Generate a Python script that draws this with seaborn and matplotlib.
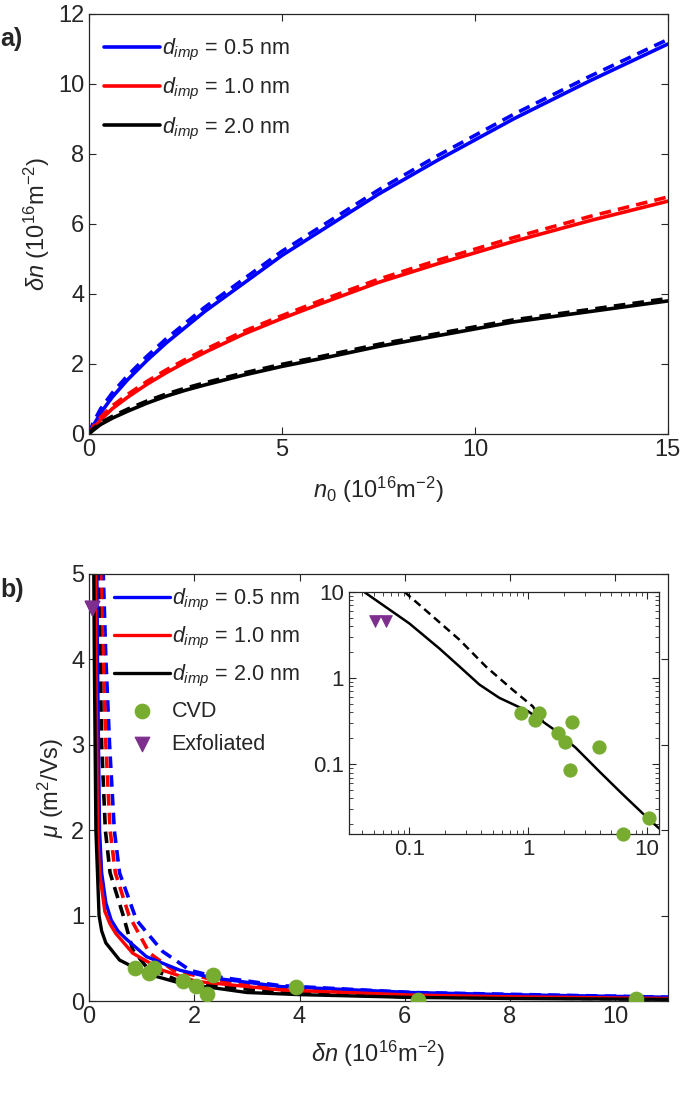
import numpy as np
import pandas as pd
import seaborn as sns
import matplotlib.pyplot as plt

sns.set_style("ticks")
plt.rcParams['font.family'] = ['Liberation Sans', 'DejaVu Sans']
plt.rcParams['mathtext.fontset'] = 'custom'
plt.rcParams['mathtext.rm'] = 'Liberation Sans'
plt.rcParams['mathtext.it'] = 'Liberation Sans:italic'
plt.rcParams['mathtext.bf'] = 'Liberation Sans:bold'

# ---- panel a: delta n vs n0 ----
n0 = [0, 0.1, 0.3, 0.6, 1, 1.5, 2, 2.5, 3, 4, 5, 6, 7.5, 9, 11, 13, 15]
dn_05 = [0, 0.22, 0.60, 1.05, 1.55, 2.10, 2.60, 3.05, 3.50, 4.30, 5.10, 5.80, 6.85, 7.80, 9.00, 10.10, 11.14]
dn_10 = [0, 0.15, 0.40, 0.72, 1.05, 1.42, 1.75, 2.05, 2.33, 2.85, 3.30, 3.72, 4.33, 4.85, 5.50, 6.10, 6.65]
dn_20 = [0, 0.10, 0.27, 0.45, 0.65, 0.88, 1.08, 1.25, 1.40, 1.68, 1.93, 2.15, 2.50, 2.80, 3.20, 3.50, 3.80]
dn_05_dash = [0, 0.30, 0.72, 1.17, 1.67, 2.22, 2.72, 3.17, 3.62, 4.42, 5.22, 5.92, 6.97, 7.93, 9.13, 10.23, 11.27]
dn_10_dash = [0, 0.20, 0.48, 0.80, 1.13, 1.50, 1.83, 2.13, 2.41, 2.93, 3.38, 3.81, 4.42, 4.95, 5.61, 6.22, 6.77]
dn_20_dash = [0, 0.14, 0.32, 0.50, 0.71, 0.94, 1.14, 1.31, 1.46, 1.74, 1.99, 2.21, 2.56, 2.86, 3.26, 3.56, 3.87]

# ---- panel b: mobility vs delta n ----
b05_x = [0.14, 0.15, 0.16, 0.18, 0.20, 0.24, 0.32, 0.42, 0.55, 0.70, 1.09, 1.73, 2.36, 3.64, 6.13, 8, 11]
b05_y = [5.5, 5, 4, 3, 2, 1.5, 1.15, 0.95, 0.82, 0.73, 0.52, 0.36, 0.27, 0.17, 0.10, 0.075, 0.045]
b10_x = [0.11, 0.12, 0.13, 0.147, 0.16, 0.20, 0.30, 0.40, 0.51, 0.83, 1.40, 2.04, 3.64, 6.13, 8, 11]
b10_y = [5.5, 5, 4, 3, 2, 1.5, 1.05, 0.90, 0.79, 0.56, 0.36, 0.23, 0.13, 0.07, 0.05, 0.03]
b20_x = [0.08, 0.09, 0.10, 0.115, 0.13, 0.16, 0.19, 0.24, 0.32, 0.58, 1.09, 1.73, 3.0, 4.0, 6.1, 8, 11]
b20_y = [5.5, 5, 4, 3, 2, 1.5, 1.0, 0.82, 0.68, 0.48, 0.32, 0.21, 0.10, 0.075, 0.043, 0.03, 0.02]
b05d_x = [0.25, 0.27, 0.32, 0.39, 0.48, 0.58, 0.90, 1.10, 1.40, 1.92, 2.36, 3.64, 6.13, 11]
b05d_y = [5.5, 5, 4, 3, 2, 1.5, 0.95, 0.80, 0.58, 0.36, 0.29, 0.18, 0.10, 0.045]
b10d_x = [0.20, 0.22, 0.27, 0.32, 0.40, 0.50, 0.76, 1.15, 1.60, 2.36, 3.64, 6.13, 11]
b10d_y = [5.5, 5, 4, 3, 2, 1.5, 1.0, 0.56, 0.36, 0.25, 0.15, 0.08, 0.03]
b20d_x = [0.15, 0.17, 0.21, 0.24, 0.31, 0.40, 0.65, 0.83, 1.09, 1.73, 3.64, 6.13, 11]
b20d_y = [5.5, 5, 4, 3, 2, 1.5, 1.0, 0.60, 0.40, 0.23, 0.095, 0.048, 0.022]

cvd_x = [0.87, 1.14, 1.23, 1.78, 2.03, 2.25, 2.35, 3.93, 6.25, 10.4]
cvd_y = [0.39, 0.33, 0.39, 0.23, 0.18, 0.085, 0.31, 0.16, 0.0155, 0.024]
exf_x = [0.051, 0.064]
exf_y = [4.6, 4.6]

# inset (log-log)
ins_x = [0.042, 0.1, 0.179, 0.264, 0.388, 0.57, 1.0, 1.6, 2.51, 3.94, 6.2, 10, 12.6]
ins_y = [9.9, 4.3, 2.2, 1.36, 0.84, 0.59, 0.41, 0.26, 0.155, 0.083, 0.045, 0.024, 0.018]
insd_x = [0.091, 0.157, 0.264, 0.44, 0.74, 1.09, 1.36]
insd_y = [10, 5.2, 2.78, 1.36, 0.73, 0.47, 0.30]

labels = [r'$d_{imp}$ = 0.5 nm', r'$d_{imp}$ = 1.0 nm', r'$d_{imp}$ = 2.0 nm']
colors = ['#0000ff', '#ff0000', '#000000']
green = '#77ac30'
purple = '#7e2f8e'
dash = (0, (3.2, 2.0))

fig = plt.figure(figsize=(6.85, 10.95), dpi=100)
ax1 = fig.add_axes([0.130, 0.6037, 0.845, 0.3836])
ax2 = fig.add_axes([0.130, 0.0858, 0.845, 0.390])
ax3 = fig.add_axes([0.5095, 0.2384, 0.4526, 0.221])

# panel a
for ys, c, lab in zip([dn_05, dn_10, dn_20], colors, labels):
    sns.lineplot(x=n0, y=ys, color=c, lw=2.6, label=lab, ax=ax1)
for ys, c in zip([dn_05_dash, dn_10_dash, dn_20_dash], colors):
    sns.lineplot(x=n0, y=ys, color=c, lw=2.6, linestyle=dash, ax=ax1)
ax1.set_xlim(0, 15)
ax1.set_ylim(0, 12)
ax1.set_xticks([0, 5, 10, 15])
ax1.set_yticks([0, 2, 4, 6, 8, 10, 12])
ax1.set_xlabel(r'$n_{\mathit{0}}$ (10$^{16}$m$^{-2}$)', fontsize=17, labelpad=10)
ax1.set_ylabel(r'$\delta n$ (10$^{16}$m$^{-2}$)', fontsize=17)
h, l = ax1.get_legend_handles_labels()
ax1.legend(h[:3], l[:3], loc='upper left', frameon=False, fontsize=15.5,
           handlelength=2.6, handletextpad=0.1, labelspacing=0.6,
           borderaxespad=0.3, bbox_to_anchor=(0.0, 0.98))

# panel b
for xs, ys, c in zip([b05d_x, b10d_x, b20d_x], [b05d_y, b10d_y, b20d_y], colors):
    sns.lineplot(x=xs, y=ys, color=c, lw=2.6, linestyle=dash, sort=False, ax=ax2)
for xs, ys, c, lab in zip([b05_x, b10_x, b20_x], [b05_y, b10_y, b20_y], colors, labels):
    sns.lineplot(x=xs, y=ys, color=c, lw=2.4, sort=False, label=lab, ax=ax2)
sns.scatterplot(x=cvd_x, y=cvd_y, color=green, s=110, marker='o', edgecolor=green,
                label='CVD', zorder=5, ax=ax2)
sns.scatterplot(x=exf_x, y=exf_y, color=purple, s=110, marker='v', edgecolor=purple,
                label='Exfoliated', zorder=5, ax=ax2, clip_on=False)
ax2.set_xlim(0, 11)
ax2.set_ylim(0, 5)
ax2.set_xticks([0, 2, 4, 6, 8, 10])
ax2.set_yticks([0, 1, 2, 3, 4, 5])
ax2.set_xlabel(r'$\delta n$ (10$^{16}$m$^{-2}$)', fontsize=17, labelpad=8)
ax2.set_ylabel(r'$\mu$ (m$^2$/Vs)', fontsize=17)
ax2.legend(loc='upper left', frameon=False, fontsize=15.5, handlelength=2.6,
           handletextpad=0.1, labelspacing=0.55, borderaxespad=0.2,
           bbox_to_anchor=(0.02, 1.0))

# inset
sns.lineplot(x=ins_x, y=ins_y, color='black', lw=1.8, ax=ax3)
sns.lineplot(x=insd_x, y=insd_y, color='black', lw=1.8, linestyle=dash, ax=ax3)
sns.scatterplot(x=cvd_x, y=cvd_y, color=green, s=90, marker='o', edgecolor=green,
                zorder=5, ax=ax3, clip_on=False)
sns.scatterplot(x=exf_x, y=exf_y, color=purple, s=70, marker='v', edgecolor=purple,
                zorder=5, ax=ax3)
ax3.set_xscale('log')
ax3.set_yscale('log')
ax3.set_xlim(0.031, 12.6)
ax3.set_ylim(0.0155, 10)
ax3.set_xticks([0.1, 1, 10], labels=['0.1', '1', '10'])
ax3.set_yticks([0.1, 1, 10], labels=['0.1', '1', '10'])
ax3.set_xlabel('')
ax3.set_ylabel('')

for ax in (ax1, ax2, ax3):
    ax.tick_params(direction='in', top=True, right=True, labelsize=17,
                   length=5, width=0.8, colors='#262626')
    for s in ax.spines.values():
        s.set_color('#262626')
        s.set_linewidth(0.9)
ax3.tick_params(which='minor', direction='in', top=True, right=True, length=3)
ax3.tick_params(labelsize=16)

fig.text(0.0, 0.958, 'a)', fontsize=18, fontweight='bold')
fig.text(0.0, 0.455, 'b)', fontsize=18, fontweight='bold')

fig.savefig('out.png', dpi=100)
